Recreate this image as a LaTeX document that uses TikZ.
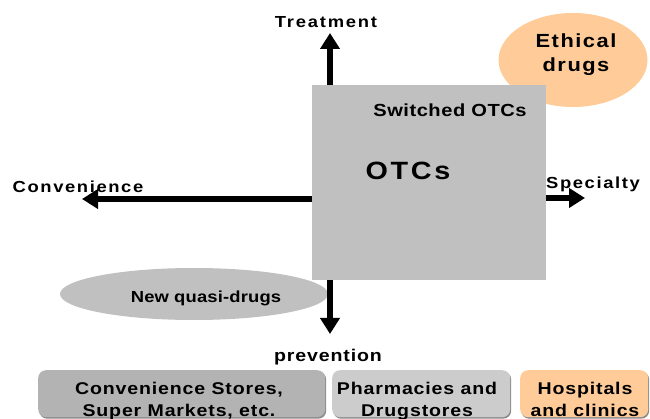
\documentclass[tikz,border=0pt]{standalone}
\usepackage{fontspec}
\setmainfont{Liberation Sans}
\usetikzlibrary{arrows.meta,shapes.geometric,shadows}
\definecolor{sqgray}{HTML}{C0C0C0}
\definecolor{boxA}{HTML}{B3B3B3}
\definecolor{boxB}{HTML}{CCCCCC}
\definecolor{peach}{HTML}{FFCC99}
\newcommand{\lblfont}[4]{\bfseries\fontsize{#1}{#2}\selectfont\addfontfeature{LetterSpace=#3,FakeStretch=#4}}
\tikzset{
  arr/.style={line width=5.5pt, -{Triangle[length=16pt,width=19pt]}},
  lbl/.style={inner sep=0pt, anchor=base},
  boxst/.style={rounded corners=8pt, inner sep=0pt, anchor=north west, minimum height=47pt,
    drop shadow={shadow xshift=1pt, shadow yshift=-1.5pt, fill=black!45, opacity=1}},
}
\begin{document}
\begin{tikzpicture}[x=1pt,y=-1pt]
\useasboundingbox (0,0) rectangle (650,419);
\clip (0,0) rectangle (650,419);
% ethical drugs ellipse (behind square)
\node[fill=peach, ellipse, minimum width=149pt, minimum height=94pt, inner sep=0pt] (eth) at (573,60) {};
\node[inner sep=0pt, align=center, font=\lblfont{19}{24}{8}{1.15}] (ethtxt) at (576,55) {Ethical\\drugs};
% OTC square
\node[fill=sqgray, minimum width=234pt, minimum height=195pt, inner sep=0pt, anchor=north west] (otc) at (312,85) {};
% new quasi-drugs ellipse
\node[fill=sqgray, ellipse, minimum width=268pt, minimum height=52pt, inner sep=0pt] (quasi) at (194,294) {};
\node[lbl, font=\lblfont{16}{18}{1}{1.15}] (quasitxt) at (206,303) {New quasi-drugs};
% arrows
\coordinate (upE) at (330,33);
\coordinate (dnE) at (330,334);
\coordinate (ltE) at (82,199);
\coordinate (rtE) at (585,198);
\draw[arr] (otc.north -| upE) -- (upE);
\draw[arr] (otc.south -| dnE) -- (dnE);
\draw[arr] (otc.west |- ltE) -- (ltE);
\draw[arr] (otc.east |- rtE) -- (rtE);
% axis labels
\node[lbl, font=\lblfont{16}{18}{11}{1.15}] (treat) at (326,28) {Treatment};
\node[lbl, font=\lblfont{16}{18}{10}{1.15}] (conv) at (78,193) {Convenience};
\node[lbl, font=\lblfont{16}{18}{10}{1.15}] (spec) at (593,189) {Specialty};
\node[lbl, font=\lblfont{17}{18}{5}{1.15}] (prev) at (328,361) {prevention};
% square texts
\node[lbl, font=\lblfont{25}{28}{11}{1.15}] (otctxt) at (408,180) {OTCs};
\node[lbl, font=\lblfont{17.5}{20}{3}{1.15}] (switched) at (450,116.5) {Switched OTCs};
% bottom boxes
\node[boxst, fill=boxA, minimum width=287pt] (b1) at (38,370) {};
\node[boxst, fill=boxB, minimum width=178pt] (b2) at (332,370) {};
\node[boxst, fill=peach, minimum width=128pt] (b3) at (520,370) {};
\node[lbl, font=\lblfont{17}{18}{5}{1.15}] (b1a) at (179,394.5) {Convenience Stores,};
\node[lbl, font=\lblfont{17}{18}{5}{1.15}] (b1b) at (179,416.5) {Super Markets, etc.};
\node[lbl, font=\lblfont{17}{18}{5}{1.15}] (b2a) at (417,394.5) {Pharmacies and};
\node[lbl, font=\lblfont{17}{18}{5}{1.15}] (b2b) at (417,416.5) {Drugstores};
\node[lbl, font=\lblfont{17}{18}{5}{1.15}] (b3a) at (585,394.5) {Hospitals};
\node[lbl, font=\lblfont{17}{18}{5}{1.15}] (b3b) at (585,416.5) {and clinics};
\end{tikzpicture}
\end{document}
